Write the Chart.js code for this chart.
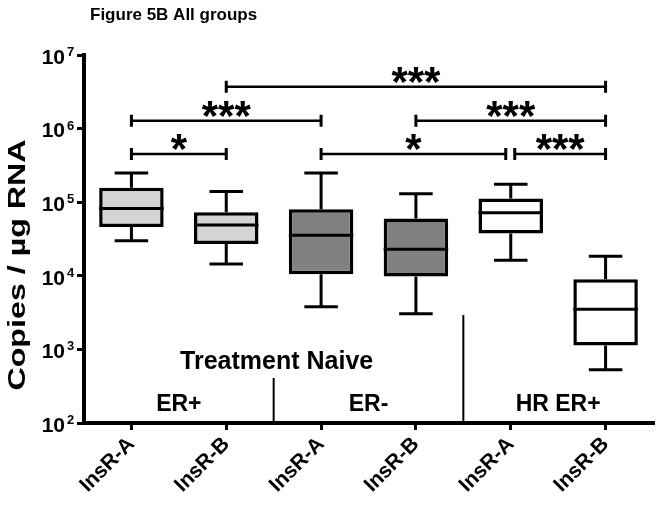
<!DOCTYPE html>
<html>
<head>
<meta charset="utf-8">
<style>
  html, body { margin: 0; padding: 0; background: #fff; }
  #wrap { width: 662px; height: 512px; }
</style>
</head>
<body>
<div id="wrap"><canvas id="myChart" width="662" height="512"></canvas></div>
<script src="https://cdn.jsdelivr.net/npm/chart.js@4.4.1/dist/chart.umd.min.js"></script>
<script>
// box plot values, one entry per group (copies / ug RNA)
const groups = ["InsR-A", "InsR-B", "InsR-A", "InsR-B", "InsR-A", "InsR-B"];
const whiskerHigh = [2.5e5, 1.4e5, 2.5e5, 1.3e5, 1.75e5, 1.85e4];
const q3 = [1.57e5, 7.3e4, 8.0e4, 6.0e4, 1.12e5, 9.0e3];
const median = [8.2e4, 4.9e4, 3.55e4, 2.3e4, 7.2e4, 3.5e3];
const q1 = [4.6e4, 2.7e4, 1.05e4, 9.8e3, 3.75e4, 1.13e3];
const whiskerLow = [3.0e4, 1.45e4, 3.8e3, 3.05e3, 1.63e4, 5.3e2];
const boxColors = ["#d4d4d4", "#d4d4d4", "#808080", "#808080", "#ffffff", "#ffffff"];

const yTicks = [1e2, 1e3, 1e4, 1e5, 1e6, 1e7];

// significance brackets (group index from / to, height in data units)
const bracketFrom = [1, 0, 0, 3, 2, 4];
const bracketTo = [5, 2, 1, 5, 4, 5];
const bracketLevel = [3.7e6, 1.28e6, 4.5e5, 1.28e6, 4.5e5, 4.5e5];
const bracketStars = ["***", "***", "*", "***", "*", "***"];

const sectionNames = ["ER+", "ER-", "HR ER+"];
const topLabel = "Treatment Naive";

const FONT = '"Liberation Sans", Arial, sans-serif';

const extras = {
  id: "extras",
  afterDatasetsDraw(chart) {
    const ctx = chart.ctx;
    const y = chart.scales.y;
    const bars = chart.getDatasetMeta(0).data;
    ctx.save();
    ctx.strokeStyle = "#000";
    ctx.lineWidth = 3;
    bars.forEach((bar, i) => {
      const cx = bar.x, half = bar.width / 2, cap = bar.width * 0.26;
      const hi = y.getPixelForValue(whiskerHigh[i]);
      const top = y.getPixelForValue(q3[i]);
      const mid = y.getPixelForValue(median[i]);
      const bot = y.getPixelForValue(q1[i]);
      const lo = y.getPixelForValue(whiskerLow[i]);
      ctx.beginPath();
      ctx.moveTo(cx, hi); ctx.lineTo(cx, top);
      ctx.moveTo(cx, bot); ctx.lineTo(cx, lo);
      ctx.moveTo(cx - cap, hi); ctx.lineTo(cx + cap, hi);
      ctx.moveTo(cx - cap, lo); ctx.lineTo(cx + cap, lo);
      ctx.moveTo(cx - half, mid); ctx.lineTo(cx + half, mid);
      ctx.stroke();
    });
    ctx.restore();
  },
  afterDraw(chart) {
    const ctx = chart.ctx;
    const x = chart.scales.x, y = chart.scales.y;
    const area = chart.chartArea;
    ctx.save();
    ctx.fillStyle = "#000";
    ctx.strokeStyle = "#000";

    // title
    ctx.font = "bold 17px " + FONT;
    ctx.textAlign = "left";
    ctx.textBaseline = "alphabetic";
    ctx.fillText("Figure 5B All groups", area.left + 6, 20);

    // y tick labels 10^n
    yTicks.forEach(v => {
      const py = y.getPixelForValue(v);
      ctx.font = "bold 21px " + FONT;
      ctx.textAlign = "right";
      ctx.textBaseline = "middle";
      ctx.fillText("10", area.left - 19, py + 3);
      ctx.font = "bold 13px " + FONT;
      ctx.textAlign = "left";
      ctx.textBaseline = "top";
      ctx.fillText(String(Math.round(Math.log10(v))), area.left - 17, py - 9);
    });

    // y axis title, stretched along its length like the original
    ctx.save();
    ctx.translate(19, (area.top + area.bottom) / 2 + 26);
    ctx.rotate(-Math.PI / 2);
    ctx.scale(1.4, 1);
    ctx.font = "bold 23px " + FONT;
    ctx.textAlign = "center";
    ctx.textBaseline = "middle";
    ctx.fillText("Copies / \u00b5g RNA", 0, 0);
    ctx.restore();

    // brackets
    bracketFrom.forEach((f, k) => {
      const t = bracketTo[k];
      const py = y.getPixelForValue(bracketLevel[k]);
      let x0 = x.getPixelForValue(f), x1 = x.getPixelForValue(t);
      bracketFrom.forEach((f2, j) => {
        if (j !== k && bracketLevel[j] === bracketLevel[k]) {
          if (f2 === t) x1 -= 5;
          if (bracketTo[j] === f) x0 += 4;
        }
      });
      ctx.lineWidth = 2.5;
      ctx.beginPath();
      ctx.moveTo(x0, py); ctx.lineTo(x1, py);
      ctx.stroke();
      ctx.lineWidth = 3;
      ctx.beginPath();
      ctx.moveTo(x0, py - 6); ctx.lineTo(x0, py + 6);
      ctx.moveTo(x1, py - 6); ctx.lineTo(x1, py + 6);
      ctx.stroke();
      ctx.font = "bold 42px " + FONT;
      ctx.textAlign = "center";
      ctx.textBaseline = "alphabetic";
      ctx.fillText(bracketStars[k], (x0 + x1) / 2, py + 9);
    });

    // group separators and labels
    const sep1 = (x.getPixelForValue(1) + x.getPixelForValue(2)) / 2;
    const sep2 = (x.getPixelForValue(3) + x.getPixelForValue(4)) / 2;
    ctx.lineWidth = 2;
    ctx.beginPath();
    ctx.moveTo(sep1, area.bottom - 45); ctx.lineTo(sep1, area.bottom);
    ctx.moveTo(sep2, area.bottom - 108); ctx.lineTo(sep2, area.bottom);
    ctx.stroke();

    ctx.font = "bold 23px " + FONT;
    ctx.textAlign = "center";
    ctx.textBaseline = "middle";
    sectionNames.forEach((name, s) => {
      const cx = (x.getPixelForValue(2 * s) + x.getPixelForValue(2 * s + 1)) / 2;
      ctx.fillText(name, cx, area.bottom - 18);
    });
    ctx.font = "bold 25px " + FONT;
    ctx.fillText(topLabel, sep1 + 3, area.bottom - 61);
    ctx.restore();
  }
};

const ctx = document.getElementById("myChart").getContext("2d");
const boxChart = new Chart(ctx, {
  type: "bar",
  data: {
    labels: groups,
    datasets: [{
      label: "IQR",
      data: q1.map((v, i) => [v, q3[i]]),
      backgroundColor: boxColors,
      borderColor: "#000",
      borderWidth: 3.5,
      borderSkipped: false,
      barPercentage: 0.68,
      categoryPercentage: 1
    }]
  },
  options: {
    responsive: false,
    animation: false,
    devicePixelRatio: 1,
    layout: { padding: { top: 55, right: 9, left: 0, bottom: 0 } },
    plugins: {
      legend: { display: false },
      tooltip: { enabled: false },
      title: { display: false }
    },
    scales: {
      x: {
        type: "category",
        offset: true,
        afterFit: s => { s.height = 89; },
        grid: { display: true, offset: false, drawOnChartArea: false, drawTicks: true, tickLength: 7, lineWidth: 3, color: "#000" },
        border: { display: true, color: "#000", width: 4 },
        ticks: {
          autoSkip: false, maxRotation: 45, minRotation: 45, padding: 2,
          color: "#000", font: { family: FONT, size: 21, weight: "bold" }
        }
      },
      y: {
        type: "logarithmic",
        min: 1e2,
        max: 1e7,
        afterBuildTicks: s => { s.ticks = yTicks.map(v => ({ value: v })); },
        afterFit: s => { s.width = 84; },
        grid: { display: true, drawOnChartArea: false, drawTicks: true, tickLength: 7, lineWidth: 3, color: "#000" },
        border: { display: true, color: "#000", width: 4 },
        ticks: { display: false },
        title: { display: false }
      }
    }
  },
  plugins: [extras]
});
</script>
</body>
</html>
